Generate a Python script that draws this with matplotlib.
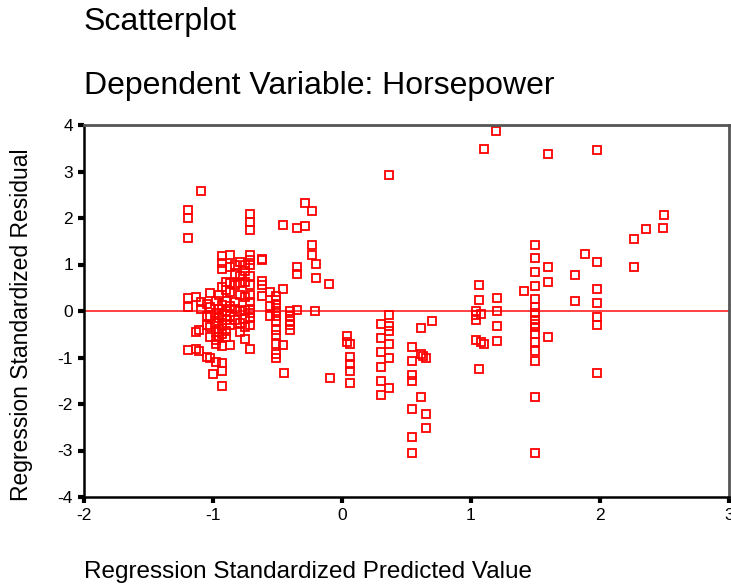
import matplotlib
matplotlib.use("Agg")
import matplotlib.pyplot as plt

plt.rcParams['font.family'] = ['Liberation Sans', 'DejaVu Sans']

title_lines = ["Scatterplot", "Dependent Variable: Horsepower"]
x_label = "Regression Standardized Predicted Value"
y_label = "Regression Standardized Residual"
x_ticks = [-2, -1, 0, 1, 2, 3]
y_ticks = [-4, -3, -2, -1, 0, 1, 2, 3, 4]

# (predicted, residual) pairs grouped by approximate column
pred = []
resid = []

def add(x, ys):
    for y in ys:
        pred.append(x)
        resid.append(y)

# left cluster
add(-1.19, [2.18, 2.01, 1.56, 0.27, 0.08, -0.84])
add(-1.13, [0.30, -0.82, -0.45])
add(-1.11, [-0.87, -0.40])
add(-1.09, [2.57, 0.19, 0.05])
add(-1.05, [-0.99, -0.30, -0.10, 0.15])
add(-1.02, [0.39, 0.08, -0.12, -0.35, -0.55, -1.02])
add(-0.98, [0.22, -0.05, -0.25, -0.45, -0.62, -1.10, -0.72])
add(-0.95, [0.35, 0.05, -0.15, -0.38, -0.55])
add(-0.93, [1.18, 1.03, 0.91, 0.52, 0.12, -0.08, -0.30, -0.50, -0.76, -1.12, -1.28, -1.61])
add(-1.00, [-1.36])
add(-0.90, [0.62, 0.22, 0.00, -0.20, -0.42, -0.55, 0.45])
add(-0.87, [1.20, 0.95, 0.60, 0.40, 0.10, -0.10, -0.30, -0.74])
add(-0.83, [1.00, 0.80, 0.55, 0.20, -0.20, 0.05])
add(-0.79, [1.05, 0.60, 0.35, 0.00, -0.25, -0.45, 0.75])
add(-0.75, [1.00, 0.85, 0.62, 0.30, 0.02, -0.18, -0.35, -0.60])
add(-0.71, [2.08, 1.91, 1.75, 1.20, 1.10, 1.00, 0.75, 0.55, 0.35, 0.05, -0.15, -0.30, -0.81, 0.20, -0.05])
add(-0.62, [1.12, 1.10, 0.64, 0.32, 0.55])
add(-0.56, [0.40, 0.10, -0.10])
add(-0.51, [0.32, 0.23, 0.12, 0.01, -0.10, -0.21, -0.41, -0.52, -0.70, -0.92, -1.00])
add(-0.455, [1.86, 0.47, -0.74])
add(-0.45, [-1.33])
add(-0.40, [-0.01, -0.10, -0.21, -0.31, -0.40])
add(-0.35, [1.79, 0.95, 0.79, 0.02])
add(-0.29, [2.32, 1.82])
add(-0.235, [2.15, 1.43, 1.20])
add(-0.20, [1.02, 0.71])
add(-0.21, [0.00])
add(-0.10, [0.58])
add(-0.09, [-1.44])
# middle
add(0.04, [-0.54, -0.67])
add(0.065, [-0.70, -0.99, -1.13, -1.30, -1.55])
add(0.30, [-0.27, -0.59, -0.88, -1.20, -1.51, -1.80])
add(0.365, [2.92, -0.09, -0.32, -0.44, -0.70, -1.02, -1.65])
add(0.54, [-0.77, -1.08, -1.38, -1.51, -2.10, -2.71, -3.05])
add(0.61, [-0.36, -0.93, -1.86])
add(0.63, [-0.97])
add(0.65, [-1.02, -2.21, -2.51])
add(0.70, [-0.21])
# right
add(1.04, [0.00, -0.09, -0.20, -0.63])
add(1.06, [0.55, 0.23, -1.25])
add(1.08, [-0.07, -0.67])
add(1.10, [3.49, -0.72])
add(1.19, [3.87])
add(1.20, [0.28, -0.01, -0.32, -0.64])
add(1.41, [0.44])
add(1.50, [1.43, 1.13, 0.84, 0.54, 0.25, 0.09, -0.04, -0.20, -0.29, -0.34, -0.49, -0.67, -0.85, -1.08, -1.86, -3.05])
add(1.60, [3.37, 0.95, 0.63, -0.56])
add(1.81, [0.77, 0.22])
add(1.88, [1.23])
add(1.98, [3.46, 1.05, 0.47, 0.17, -0.13, -0.31, -1.33])
add(2.26, [1.54, 0.95])
add(2.36, [1.76])
add(2.49, [1.79])
add(2.50, [2.07])

fig = plt.figure(figsize=(7.31, 5.86), dpi=100)
ax = fig.add_axes([84/731, 1-497/586, (729-84)/731, (497-125)/586])

ax.plot(pred, resid, linestyle='none', marker='s', markersize=5.2,
        markerfacecolor='none', markeredgecolor='#ff0000', markeredgewidth=1.3)
ax.axhline(0, color='#ff2020', linewidth=1.2, zorder=1)

ax.set_xlim(-2, 3)
ax.set_ylim(-4, 4)
ax.set_xticks(x_ticks)
ax.set_yticks(y_ticks)
ax.set_xticklabels([str(t) for t in x_ticks], fontsize=12.5)
ax.set_yticklabels([str(t) for t in y_ticks], fontsize=12.5)
ax.tick_params(direction='out', length=4, width=3, color='black', pad=4)

for s in ['left', 'bottom']:
    ax.spines[s].set_color('black')
    ax.spines[s].set_linewidth(1.8)
for s in ['top', 'right']:
    ax.spines[s].set_color('#555555')
    ax.spines[s].set_linewidth(2)

fig.text(84/731, 1-22/586, title_lines[0], fontsize=23, va='center', ha='left')
fig.text(84/731, 1-86/586, title_lines[1], fontsize=23, va='center', ha='left')
fig.text(84/731, 1-572/586, x_label, fontsize=17.5, va='center', ha='left')
fig.text(22/731, 1-(150+500)/2/586, y_label, fontsize=16.5, va='center', ha='center', rotation=90)

fig.savefig('out.png', dpi=100)
